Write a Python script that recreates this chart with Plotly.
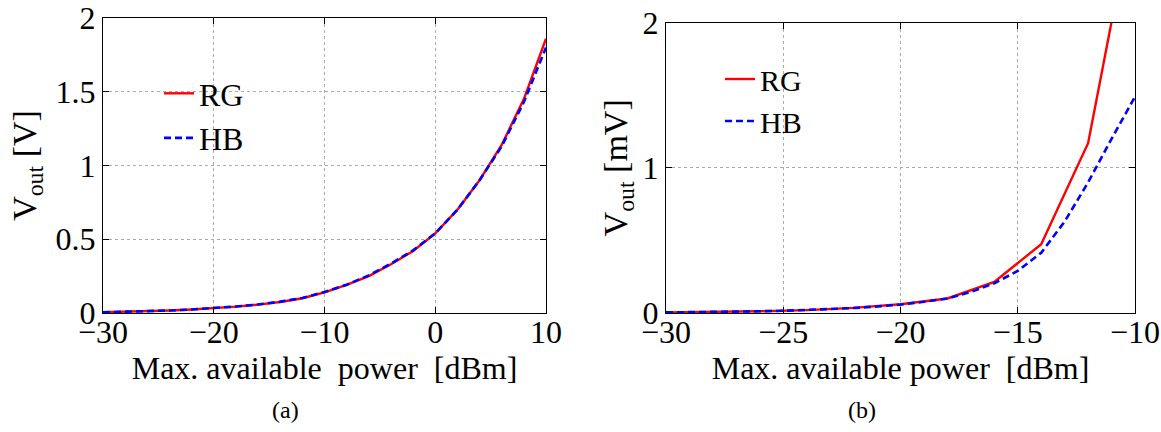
import plotly.graph_objects as go

# ---- data: panel (a) ----
pa_x = [-30, -28, -26, -24, -22, -20, -18, -16, -14, -12, -10, -8, -6, -4, -2, 0, 2, 4, 6, 8, 10]
pa_rg = [0.005, 0.008, 0.012, 0.017, 0.024, 0.032, 0.043, 0.057, 0.075, 0.10, 0.14,
         0.19, 0.25, 0.33, 0.42, 0.54, 0.70, 0.90, 1.14, 1.45, 1.86]
pa_hb = [0.005, 0.008, 0.012, 0.017, 0.024, 0.033, 0.044, 0.058, 0.077, 0.102, 0.142,
         0.192, 0.255, 0.335, 0.425, 0.54, 0.70, 0.90, 1.13, 1.43, 1.80]

# ---- data: panel (b) ----
pb_rg_x = [-30, -28, -26, -24, -22, -20, -18, -16, -14, -12, -10]
pb_rg = [0.004, 0.007, 0.012, 0.02, 0.035, 0.06, 0.10, 0.214, 0.474, 1.17, 2.84]
pb_hb_x = [-30, -29, -28, -27, -26, -25, -24, -23, -22, -21, -20, -19, -18, -17, -16,
           -15, -14, -13, -12, -11, -10]
pb_hb = [0.004, 0.005, 0.007, 0.009, 0.012, 0.015, 0.02, 0.026, 0.034, 0.045, 0.058,
         0.077, 0.10, 0.145, 0.205, 0.29, 0.415, 0.63, 0.90, 1.20, 1.49]

xticks_a = [-30, -20, -10, 0, 10]
yticks_a = [0, 0.5, 1, 1.5, 2]
xticks_b = [-30, -25, -20, -15, -10]
yticks_b = [0, 1, 2]

FONT = "Times New Roman, Liberation Serif, serif"
W, H = 1161, 432

fig = go.Figure()
fig.add_trace(go.Scatter(x=pa_x, y=pa_rg, mode="lines", name="RG",
                         line=dict(color="#ff0000", width=2.4), xaxis="x", yaxis="y",
                         legend="legend", legendgroup="a1"))
fig.add_trace(go.Scatter(x=pa_x, y=pa_hb, mode="lines", name="HB",
                         line=dict(color="#0000ff", width=2.6, dash="7px,4px"), xaxis="x", yaxis="y",
                         legend="legend", legendgroup="a2"))
fig.add_trace(go.Scatter(x=pb_rg_x, y=pb_rg, mode="lines", name="RG",
                         line=dict(color="#ff0000", width=2.4), xaxis="x2", yaxis="y2",
                         legend="legend2", legendgroup="b1"))
fig.add_trace(go.Scatter(x=pb_hb_x, y=pb_hb, mode="lines", name="HB",
                         line=dict(color="#0000ff", width=2.6, dash="7px,4px"), xaxis="x2", yaxis="y2",
                         legend="legend2", legendgroup="b2"))

axis_common = dict(showline=True, linecolor="black", linewidth=1.3, mirror="ticks",
                   ticks="inside", ticklen=6, tickcolor="black", showgrid=True,
                   gridcolor="#aaaaaa", griddash="dot", gridwidth=1, zeroline=False,
                   tickfont=dict(family=FONT, size=32, color="black"), automargin=False)

def px_x(p):
    return p / W

def px_y(p):
    return 1 - p / H

fig.update_layout(
    width=W, height=H,
    margin=dict(l=0, r=0, t=0, b=0),
    paper_bgcolor="white", plot_bgcolor="white",
    font=dict(family=FONT, color="black"),
    xaxis=dict(axis_common, domain=[px_x(103), px_x(546)], range=[-30, 10],
               tickvals=xticks_a, anchor="y", ticklabelstandoff=-10,
               title=dict(text="Max. available\u00a0 power\u00a0 [dBm]", standoff=0,
                          font=dict(family=FONT, size=32, color="black"))),
    yaxis=dict(axis_common, domain=[px_y(313), px_y(18)], range=[0, 2],
               tickvals=yticks_a, ticktext=["0", "0.5", "1", "1.5", "2"], anchor="x",
               title=dict(text="V<sub>out</sub> [V]", standoff=8,
                          font=dict(family=FONT, size=34, color="black"))),
    xaxis2=dict(axis_common, domain=[px_x(666), px_x(1135)], range=[-30, -10],
                tickvals=xticks_b, anchor="y2", ticklabelstandoff=-10,
                title=dict(text="Max. available power\u00a0 [dBm]", standoff=0,
                           font=dict(family=FONT, size=32, color="black"))),
    yaxis2=dict(axis_common, domain=[px_y(313), px_y(22.7)], range=[0, 2],
                tickvals=yticks_b, anchor="x2",
                title=dict(text="V<sub>out</sub> [mV]", standoff=4,
                           font=dict(family=FONT, size=34, color="black"))),
    legend=dict(x=px_x(159), y=px_y(66), xanchor="left", yanchor="top",
                bgcolor="rgba(0,0,0,0)", borderwidth=0, tracegroupgap=0,
                font=dict(family=FONT, size=32, color="black")),
    legend2=dict(x=px_x(720), y=px_y(53), xanchor="left", yanchor="top",
                 bgcolor="rgba(0,0,0,0)", borderwidth=0, tracegroupgap=0,
                 font=dict(family=FONT, size=30, color="black")),
    annotations=[
        dict(text="(a)", x=px_x(285), y=px_y(410), xref="paper", yref="paper",
             xanchor="center", yanchor="middle",
             showarrow=False, font=dict(family=FONT, size=24, color="black")),
        dict(text="(b)", x=px_x(862), y=px_y(410), xref="paper", yref="paper",
             xanchor="center", yanchor="middle",
             showarrow=False, font=dict(family=FONT, size=24, color="black")),
    ],
)

fig.write_html("out.html")
